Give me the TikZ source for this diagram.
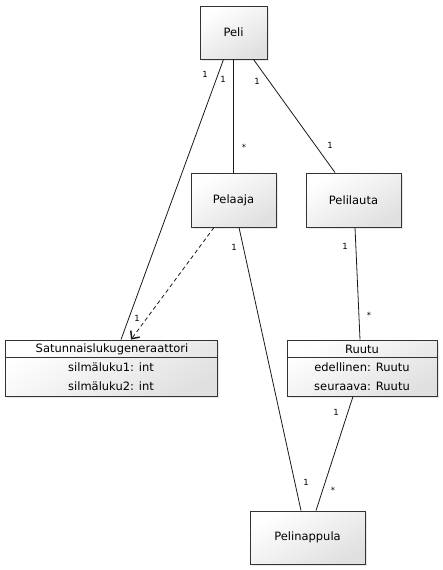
\documentclass[tikz,border=0pt]{standalone}
\usepackage{fontspec}
\setmainfont{DejaVu Sans}
\usetikzlibrary{shadows,arrows.meta}

\tikzset{
  luokka/.style={draw=black!80, line width=0.9pt, top color=white, bottom color=black!12,
    shading angle=30, drop shadow={opacity=0.18, shadow xshift=2pt, shadow yshift=-2pt},
    inner sep=0pt, font=\fontsize{11.5}{13}\selectfont},
  teksti/.style={inner sep=0pt, font=\fontsize{11.5}{13}\selectfont},
  kerroin/.style={inner sep=0pt, font=\fontsize{8.5}{10}\selectfont},
  yhteys/.style={line width=0.8pt, black!90}
}

\begin{document}
\begin{tikzpicture}[x=1pt, y=-1pt]
		\useasboundingbox (0,0) rectangle (443,570);
		
		% Luokat
		\node[luokka, minimum width=67pt, minimum height=53pt] (peli) at (233.5,32.5) {Peli};
		\node[luokka, minimum width=85pt, minimum height=54pt] (pelaaja) at (233.5,200) {Pelaaja};
		\node[luokka, minimum width=95pt, minimum height=54pt] (pelilauta) at (353.5,200) {Pelilauta};
		\node[luokka, minimum width=115pt, minimum height=53pt] (pelinappula) at (307.5,537.5) {Pelinappula};
		
		% Satunnaislukugeneraattori
		\node[luokka, minimum width=212pt, minimum height=56pt] (satunnais) at (111,368) {};
		\draw[black!80, line width=0.9pt] ([yshift=-18pt]satunnais.north west) -- ([yshift=-18pt]satunnais.north east);
		\node[teksti] (satnimi) at (112,349) {Satunnaislukugeneraattori};
		\node[teksti] (silma1) at (111,367) {silmäluku1: int};
		\node[teksti] (silma2) at (111,386) {silmäluku2: int};
		
		% Ruutu
		\node[luokka, minimum width=150pt, minimum height=56pt] (ruutu) at (362,368) {};
		\draw[black!80, line width=0.9pt] ([yshift=-18pt]ruutu.north west) -- ([yshift=-18pt]ruutu.north east);
		\node[teksti] (ruutunimi) at (362,349) {Ruutu};
		\node[teksti] (edellinen) at (362,367) {edellinen: Ruutu};
		\node[teksti] (seuraava) at (362,386) {seuraava: Ruutu};
		
		% Yhteydet
		\draw[yhteys] ([xshift=-10pt]peli.south) -- ([xshift=10pt]satunnais.north);
		\draw[yhteys] (peli.south) -- (pelaaja.north);
		\draw[yhteys] ([xshift=20pt]peli.south) -- ([xshift=-18.5pt]pelilauta.north);
		\draw[yhteys, dash pattern=on 4pt off 3pt, -{Straight Barb[length=6pt, width=11pt, line width=1.5pt]}] ([xshift=-19.5pt]pelaaja.south) -- ([xshift=20pt]satunnais.north);
		\draw[yhteys] ([xshift=5.5pt]pelaaja.south) -- ([xshift=-6.5pt]pelinappula.north);
		\draw[yhteys] ([xshift=1.5pt]pelilauta.south) -- ([xshift=-2pt]ruutu.north);
		\draw[yhteys] ([xshift=-9pt]ruutu.south) -- ([xshift=8.5pt]pelinappula.north);
		
		% Kertoimet
		\node[kerroin] at (205,74) {1};
		\node[kerroin] at (223,79) {1};
		\node[kerroin] at (257,81) {1};
		\node[kerroin] at (244,147) {*};
		\node[kerroin] at (330,145) {1};
		\node[kerroin] at (234,247) {1};
		\node[kerroin] at (345,246) {1};
		\node[kerroin] at (369,315) {*};
		\node[kerroin] at (137,318) {1};
		\node[kerroin] at (336,412) {1};
		\node[kerroin] at (306,482) {1};
		\node[kerroin] at (333,490) {*};
		
	\end{tikzpicture}
\end{document}
